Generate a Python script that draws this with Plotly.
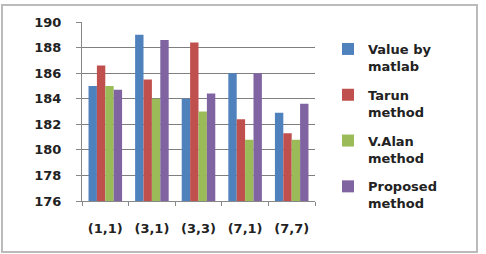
import plotly.graph_objects as go

categories = ["(1,1)", "(3,1)", "(3,3)", "(7,1)", "(7,7)"]
series_names = ["Value by<br>matlab", "Tarun<br>method", "V.Alan<br>method", "Proposed<br>method"]
value_by_matlab = [185.0, 189.0, 184.0, 186.0, 182.9]
tarun_method = [186.6, 185.5, 188.4, 182.4, 181.3]
valan_method = [185.0, 184.0, 183.0, 180.8, 180.8]
proposed_method = [184.7, 188.6, 184.4, 186.0, 183.6]
colors = ["#4F81BD", "#C0504D", "#9BBB59", "#8064A2"]
y_ticks = [176, 178, 180, 182, 184, 186, 188, 190]

FONT = "DejaVu Sans"
fig = go.Figure()
for i, (name, vals, col) in enumerate(zip(series_names, [value_by_matlab, tarun_method, valan_method, proposed_method], colors)):
    fig.add_trace(go.Bar(x=categories, y=vals, name=name, legendgroup=f"g{i}",
                         marker=dict(color=col, line=dict(width=0))))

L, R, T, B = 82, 171, 22, 53
W, H = 486, 254
pw, ph = W - L - R, H - T - B

fig.update_layout(
    width=W, height=H,
    margin=dict(l=L, r=R, t=T, b=B),
    paper_bgcolor="white", plot_bgcolor="white",
    barmode="group", bargap=0.28, bargroupgap=0,
    font=dict(family=FONT, size=13, color="#222222", weight="bold"),
    showlegend=True,
    legend=dict(x=(328 - L) / pw, y=(201 - 34) / ph, xanchor="left", yanchor="top",
                font=dict(family=FONT, size=13, color="#222222", weight="bold"),
                traceorder="grouped", tracegroupgap=9, itemwidth=30, maxheight=250,
                valign="top", bgcolor="rgba(0,0,0,0)"),
    xaxis=dict(showgrid=False, showline=True, linecolor="#888888", linewidth=1,
               ticks="outside", ticklen=4, tickcolor="#888888", tickson="boundaries",
               tickfont=dict(family=FONT, size=13, color="#222222", weight="bold"),
               ticklabelstandoff=15),
    yaxis=dict(range=[176, 190], tickvals=y_ticks, showgrid=True, gridcolor="#7f7f7f", gridwidth=1,
               showline=True, linecolor="#888888", linewidth=1, ticks="outside", ticklen=5,
               tickcolor="#888888", zeroline=False,
               tickfont=dict(family=FONT, size=13, color="#222222", weight="bold"),
               ticklabelstandoff=12),
    shapes=[dict(type="rect", xref="paper", yref="paper",
                 x0=(2 - L) / pw, x1=(477 - L) / pw, y0=(201 - 252) / ph, y1=(201 - 5) / ph,
                 line=dict(color="#BBBBBB", width=2), fillcolor="rgba(0,0,0,0)", layer="below")],
)
fig.write_html("out.html")
